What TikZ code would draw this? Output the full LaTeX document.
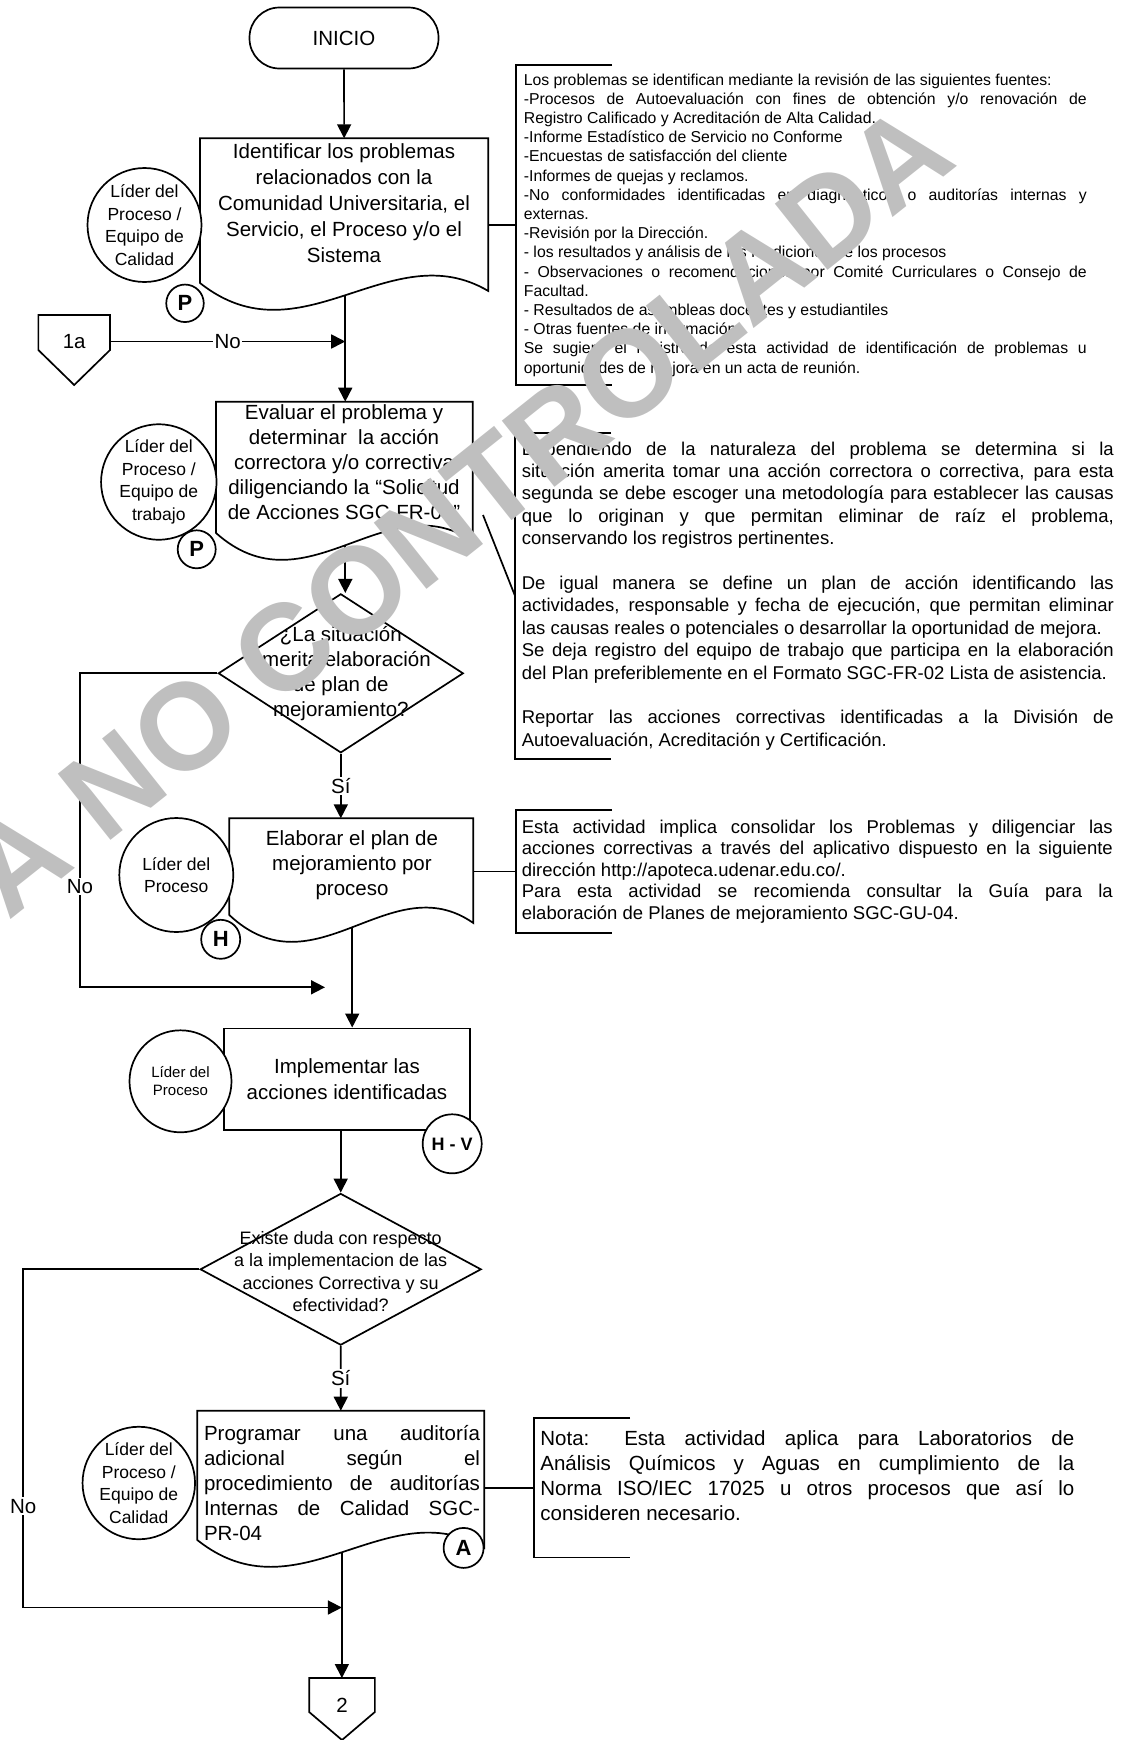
\documentclass[tikz,border=0pt]{standalone}
\usepackage{fontspec}
\setmainfont{Liberation Sans}
\usetikzlibrary{shapes.geometric,arrows.meta,calc}

% documento: nombre, izquierda, arriba, derecha, abajo (lado izquierdo)
\newcommand{\docshape}[5]{%
  \draw[fill=white] ({#2},{#5}) -- ({#2},{#3}) -- coordinate[pos=.5] (#1-n) ({#4},{#3})
    -- coordinate[pos=.5] (#1-e) ({#4},{#5+8})
    .. controls ({#2+0.66*(#4-#2)},{#5-50}) and ({#2+0.35*(#4-#2)},{#5+80}) .. ({#2},{#5})
    coordinate[pos=.5] (#1-s) -- cycle;}

\begin{document}
\begin{tikzpicture}[x=1pt,y=-1pt,line width=1.7pt,
  big/.style={font=\fontsize{20.5}{25}\selectfont},
  arr/.style={-{Triangle[length=14pt,width=14pt]}},
  startstop/.style={draw,rounded corners=30pt,minimum width=189pt,minimum height=61pt,big},
  docnode/.style={align=center,inner sep=0pt,big},
  decision/.style={draw,diamond,fill=white,inner sep=0pt},
  resp/.style={draw,circle,fill=white,inner sep=0pt,align=center,font=\fontsize{17.5}{22.6}\selectfont},
  phva/.style={draw,circle,fill=white,inner sep=0pt,font=\bfseries\fontsize{22}{22}\selectfont},
  note/.style={anchor=north west,align=justify,inner ysep=0pt,
    execute at begin node={\hyphenpenalty=10000\exhyphenpenalty=10000\tolerance=10000}},
  lbl/.style={fill=white,inner sep=1.5pt,big}]
\useasboundingbox (0,0) rectangle (1129,1740);

\node[startstop] (s0) at (344,38) {INICIO};
\docshape{b1}{200}{138.3}{488.3}{283}
\node[docnode,font=\fontsize{20.5}{26}\selectfont] (b1) at (344,203) {Identificar los problemas\\relacionados con la\\Comunidad Universitaria, el\\Servicio, el Proceso y/o el\\Sistema};
\docshape{b2}{216}{401.7}{472.7}{533}
\node[docnode] (b2) at (344,462.5) {Evaluar el problema y\\determinar~ la acción\\correctora y/o correctiva\\diligenciando la “Solicitud\\de Acciones SGC-FR-08”};
\node[decision,minimum width=245pt,minimum height=159pt] (d1) at (340.8,673.3) {};
\node[docnode] (d1t) at (d1.center) {¿La situación\\amerita elaboración\\de plan de\\mejoramiento?};
\docshape{b3}{229.3}{818.3}{473.3}{915}
\node[docnode] (b3) at (352,865.5) {Elaborar el plan de\\mejoramiento por\\proceso};
\node[draw,fill=white,minimum width=246pt,minimum height=101.7pt,align=center,font=\fontsize{20.5}{26}\selectfont] (b4) at (347,1079.2) {Implementar las\\acciones identificadas};
\node[decision,minimum width=281pt,minimum height=151.7pt] (d2) at (340.7,1269.3) {};
\node[docnode,font=\fontsize{18}{22.5}\selectfont] (d2t) at (340.7,1271.5) {Existe duda con respecto\\a la implementacion de las\\acciones Correctiva y su\\efectividad?};
\docshape{b5}{197.3}{1410.7}{484.3}{1540}
\node[docnode,text width=276pt,align=justify,execute at begin node={\tolerance=10000\hyphenpenalty=10000}] (b5) at (342,1483) {Programar una auditoría\linebreak adicional según el\linebreak procedimiento de auditorías\linebreak Internas de Calidad SGC-\linebreak PR-04};

% responsables
\node[resp,minimum size=114pt] (r1) at (144.5,225) {Líder del\\Proceso /\\Equipo de\\Calidad};
\node[resp,minimum size=114pt] (r2) at (158.8,482) {Líder del\\Proceso /\\Equipo de\\trabajo};
\node[resp,minimum size=114pt] (r3) at (176.3,875) {Líder del\\Proceso};
\node[resp,minimum size=102pt,font=\fontsize{15}{18.4}\selectfont] (r4) at (180.5,1081.3) {Líder del\\Proceso};
\node[resp,minimum size=112pt] (r5) at (138.8,1483) {Líder del\\Proceso /\\Equipo de\\Calidad};
\node[phva,minimum size=37.5pt] (p1) at (185,303.3) {P};
\node[phva,minimum size=38pt] (p2) at (196.7,549.3) {P};
\node[phva,minimum size=39pt] (h1) at (220.7,939.3) {H};
\node[phva,minimum size=59pt,font=\bfseries\fontsize{18}{18}\selectfont] (hv) at (452.2,1143.8) {H - V};
\node[phva,minimum size=40pt] (a1) at (463.6,1547.9) {A};

% conectores de pagina
\node[minimum width=71.7pt,minimum height=53pt,outer sep=0pt,big] (c1) at (74.2,341.5) {1a};
\draw (c1.north west) -- (c1.north east) -- ($(c1.north east)+(0,35)$) -- ($(c1.north)+(0,70)$) -- ($(c1.north west)+(0,35)$) -- cycle;
\node[minimum width=65.7pt,minimum height=54pt,outer sep=0pt,big] (c2) at (342,1705) {2};
\draw (c2.north west) -- (c2.north east) -- ($(c2.north east)+(0,34)$) -- ($(c2.north)+(0,62)$) -- ($(c2.north west)+(0,34)$) -- cycle;

% notas
\node[note,text width=563pt,inner xsep=7pt,minimum height=318pt,font=\fontsize{15.8}{19.2}\selectfont] (n1) at (516,65) {Los problemas se identifican mediante la revisión de las siguientes fuentes:\par
-Procesos de Autoevaluación con fines de obtención y/o renovación de\linebreak Registro Calificado y Acreditación de Alta Calidad.\par
-Informe Estadístico de Servicio no Conforme\par
-Encuestas de satisfacción del cliente\par
-Informes de quejas y reclamos.\par
-No conformidades identificadas en diagnósticos o auditorías internas y\linebreak externas.\par
-Revisión por la Dirección.\par
- los resultados y análisis de las mediciones de los procesos\par
- Observaciones o recomendaciones por Comité Curriculares o Consejo de\linebreak Facultad.\par
- Resultados de asambleas docentes y estudiantiles\par
- Otras fuentes de información\par
Se sugiere el registro de esta actividad de identificación de problemas u\linebreak oportunidades de mejora en un acta de reunión.};
\node[note,text width=592pt,inner xsep=6pt,minimum height=324pt,font=\fontsize{18.5}{22.4}\selectfont] (n2) at (515,433) {Dependiendo de la naturaleza del problema se determina si la\linebreak situación amerita tomar una acción correctora o correctiva, para esta\linebreak segunda se debe escoger una metodología para establecer las causas\linebreak que lo originan y que permitan eliminar de raíz el problema,\linebreak conservando los registros pertinentes.\par\vspace{22.4pt}
De igual manera se define un plan de acción identificando las\linebreak actividades, responsable y fecha de ejecución, que permitan eliminar\linebreak las causas reales o potenciales o desarrollar la oportunidad de mejora.\par
Se deja registro del equipo de trabajo que participa en la elaboración\linebreak del Plan preferiblemente en el Formato SGC-FR-02 Lista de asistencia.\par\vspace{22.4pt}
Reportar las acciones correctivas identificadas a la División de\linebreak Autoevaluación, Acreditación y Certificación.};
\node[note,text width=591pt,inner xsep=5pt,minimum height=121pt,font=\fontsize{18.5}{21.5}\selectfont] (n3) at (516,810) {Esta actividad implica consolidar los Problemas y diligenciar las\linebreak acciones correctivas a través del aplicativo dispuesto en la siguiente\linebreak dirección http://apoteca.udenar.edu.co/.\par
Para esta actividad se recomienda consultar la Guía para la\linebreak elaboración de Planes de mejoramiento SGC-GU-04.};
\node[note,text width=534pt,inner xsep=5.5pt,inner ysep=12pt,text depth=99pt,big] (n4) at (534,1418) {Nota: Esta actividad aplica para Laboratorios de\linebreak Análisis Químicos y Aguas en cumplimiento de la\linebreak Norma ISO/IEC 17025 u otros procesos que así lo\linebreak consideren necesario.};
\foreach \n in {n1,n2,n3,n4}
  \draw (\n.north west) ++(96,0) -- (\n.north west) -- (\n.south west) -- ++(96,0);
\draw (b1-e |- n1.west) -- (n1.west);
\coordinate (t2) at (483,515);
\draw (t2) -- (n2.west);
\draw (b3-e |- n3.west) -- (n3.west);
\draw (b5-e |- n4.west) -- (n4.west);

% flujo
\coordinate (j1) at (325,987.3);
\coordinate (j2) at (b5-s |- 0,1607.5);
\draw[arr] (s0) -- (b1-n);
\draw[arr] (b1-s) -- (b1-s |- b2-n);
\draw[arr] (c1) -- node[lbl]{No} (c1 -| b1-s);
\draw[arr] (b2-s) -- (b2-s |- d1.north);
\draw[arr] (d1.south) -- node[lbl]{Sí} (d1.south |- b3-n);
\draw[arr] (d1.west) -- (80,673.3) -- node[lbl,pos=.68]{No} (80,987.3) -- (j1);
\draw[arr] (b3-s) -- (b3-s |- b4.north);
\draw[arr] (d2.north |- b4.south) -- (d2.north);
\draw[arr] (d2.south) -- node[lbl]{Sí} (b5-n);
\draw[arr] (d2.west) -- (23.3,1269.3) -- node[lbl,pos=.7]{No} (23.3,1607.5) -- (j2);
\draw[arr] (b5-s) -- (b5-s |- c2.north);

% marca de agua
\begin{scope}
\clip (0,0) rectangle (1129,1740);
\node[rotate=38.5,text=black!25,font=\bfseries\fontsize{123}{123}\selectfont] (wm) at (458,510) {A NO CONTROLADA};
\end{scope}
\end{tikzpicture}
\end{document}
